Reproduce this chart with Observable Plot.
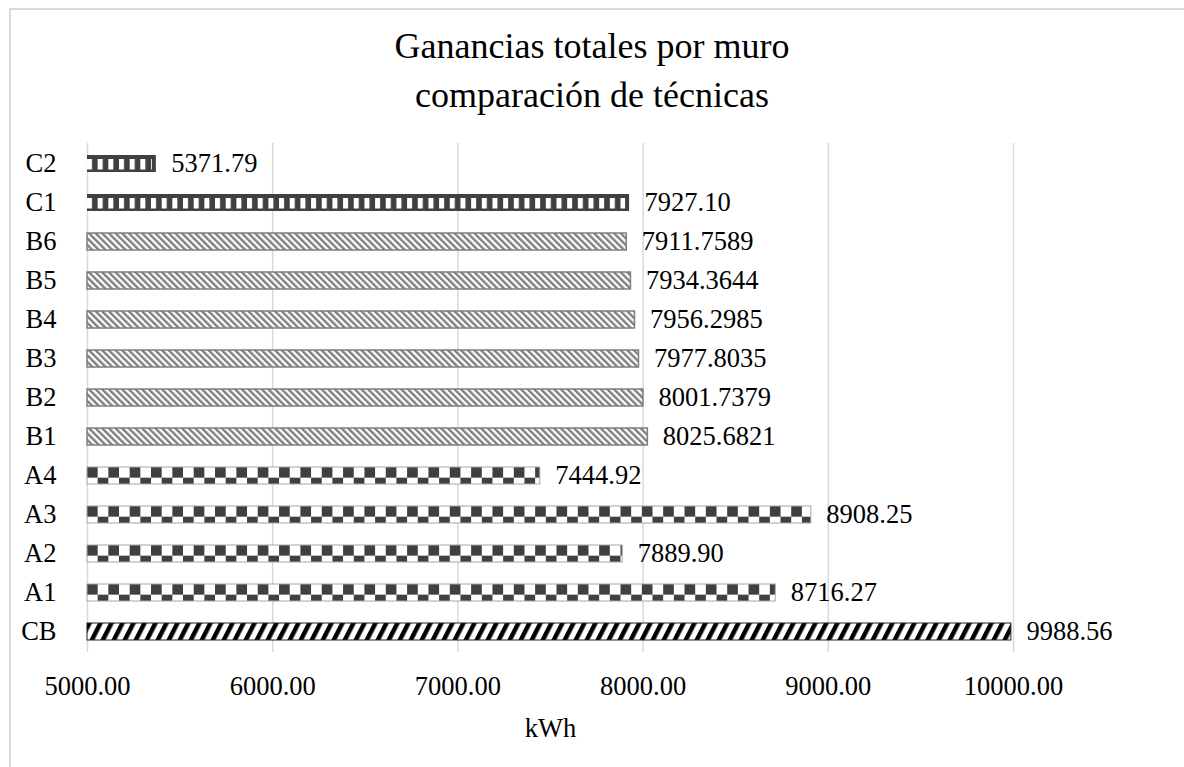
<!DOCTYPE html>
<html>
<head>
<meta charset="utf-8">
<script src="https://cdn.jsdelivr.net/npm/d3@7"></script>
<script src="https://cdn.jsdelivr.net/npm/@observablehq/plot@0.6"></script>
<style>
  html, body { margin: 0; padding: 0; background: #fff; overflow: hidden; }
  #wrap { position: relative; width: 1184px; height: 767px; }
  #frame { position: absolute; left: 9px; top: 8px; width: 1400px; height: 1000px;
           border-left: 2px solid #d9d9d9; border-top: 2px solid #d9d9d9; pointer-events: none; z-index: 3; }
  #title { position: absolute; left: 0; top: 22px; width: 1184px; text-align: center;
           font-family: "Liberation Serif", "Times New Roman", serif; font-size: 36px; line-height: 49px; color: #000; z-index: 2; }
  #chart { position: absolute; left: 0; top: 0; z-index: 1; }
</style>
</head>
<body>
<div id="wrap">
  <div id="frame"></div>
  <div id="title">Ganancias totales por muro<br>comparación de técnicas</div>
  <div id="chart"></div>
</div>
<svg width="0" height="0" style="position:absolute">
  <defs>
    <pattern id="patCB" patternUnits="userSpaceOnUse" width="9.8" height="9.8" patternTransform="rotate(27)">
      <rect width="9.8" height="9.8" fill="#fff"></rect>
      <rect width="4.5" height="9.8" fill="#000"></rect>
    </pattern>
    <pattern id="patA" patternUnits="userSpaceOnUse" width="21.34" height="21.34">
      <rect width="21.34" height="21.34" fill="#fff"></rect>
      <rect x="0" y="0" width="10.67" height="10.67" fill="#404040"></rect>
      <rect x="10.67" y="10.67" width="10.67" height="10.67" fill="#404040"></rect>
    </pattern>
    <pattern id="patB" patternUnits="userSpaceOnUse" width="4.7" height="4.7" patternTransform="rotate(-45)">
      <rect width="4.7" height="4.7" fill="#fff"></rect>
      <rect width="2.4" height="4.7" fill="#7f7f7f"></rect>
    </pattern>
    <pattern id="patC" patternUnits="userSpaceOnUse" width="10.67" height="10">
      <rect width="10.67" height="10" fill="#404040"></rect>
      <rect x="0" width="5" height="10" fill="#fff"></rect>
    </pattern>
  </defs>
</svg>
<script>
// ---- data ----
const categories = ["C2","C1","B6","B5","B4","B3","B2","B1","A4","A3","A2","A1","CB"];
const values = [5371.79, 7927.10, 7911.7589, 7934.3644, 7956.2985, 7977.8035, 8001.7379, 8025.6821, 7444.92, 8908.25, 7889.90, 8716.27, 9988.56];
const valueLabels = ["5371.79","7927.10","7911.7589","7934.3644","7956.2985","7977.8035","8001.7379","8025.6821","7444.92","8908.25","7889.90","8716.27","9988.56"];
const groups = ["C","C","B","B","B","B","B","B","A","A","A","A","CB"];
const xTicks = [5000, 6000, 7000, 8000, 9000, 10000];
const baseline = 5000;
const xLabel = "kWh";

const data = categories.map((c, i) => ({cat: c, value: values[i], label: valueLabels[i], group: groups[i]}));
const sub = g => data.filter(d => d.group === g);

const font = "'Liberation Serif', 'Times New Roman', serif";
const fs = 26.5;

const plot = Plot.plot({
  width: 1184,
  height: 767,
  marginTop: 143,
  marginBottom: 115,
  marginLeft: 87,
  marginRight: 171,
  style: {fontFamily: font, fontSize: fs + "px", color: "#000", background: "transparent", overflow: "visible"},
  x: {domain: [5000, 10000]},
  y: {type: "band", domain: categories, paddingInner: 0.57, paddingOuter: 0.285},
  marks: [
    Plot.gridX(xTicks, {stroke: "#d9d9d9", strokeOpacity: 1, strokeWidth: 1.5}),
    // CB
    Plot.barX(sub("CB"), {x1: baseline, x2: "value", y: "cat", fill: "url(#patCB)", stroke: "#222", strokeWidth: 1}),
    // A
    Plot.barX(sub("A"), {x1: baseline, x2: "value", y: "cat", fill: "url(#patA)", stroke: "#a6a6a6", strokeWidth: 1}),
    // B
    Plot.barX(sub("B"), {x1: baseline, x2: "value", y: "cat", fill: "url(#patB)", stroke: "#7f7f7f", strokeWidth: 1.5}),
    // C: dark body + slotted pattern inset
    Plot.barX(sub("C"), {x1: baseline, x2: "value", y: "cat", fill: "#404040"}),
    Plot.barX(sub("C"), {x1: baseline, x2: "value", y: "cat", fill: "url(#patC)", insetTop: 4, insetBottom: 2.5, insetLeft: 0, insetRight: 4}),
    Plot.text(data, {x: "value", y: "cat", text: "label", textAnchor: "start", dx: 15, fill: "#000", fontSize: fs}),
    Plot.axisY({tickSize: 0, tickPadding: 31, fontSize: fs, label: null}),
    Plot.axisX({ticks: xTicks, tickFormat: d3.format(".2f"), tickSize: 0, tickPadding: 24, fontSize: fs,
                label: xLabel, labelAnchor: "center", labelArrow: "none", labelOffset: 84})
  ]
});

document.getElementById("chart").appendChild(plot);

// anchor each bar's pattern at its own top-left corner
d3.select(plot).selectAll("g[aria-label='bar'] rect").each(function() {
  const r = d3.select(this);
  const x = +r.attr("x"), y = +r.attr("y");
  r.attr("transform", `translate(${x},${y})`).attr("x", 0).attr("y", 0);
});
</script>
</body>
</html>
